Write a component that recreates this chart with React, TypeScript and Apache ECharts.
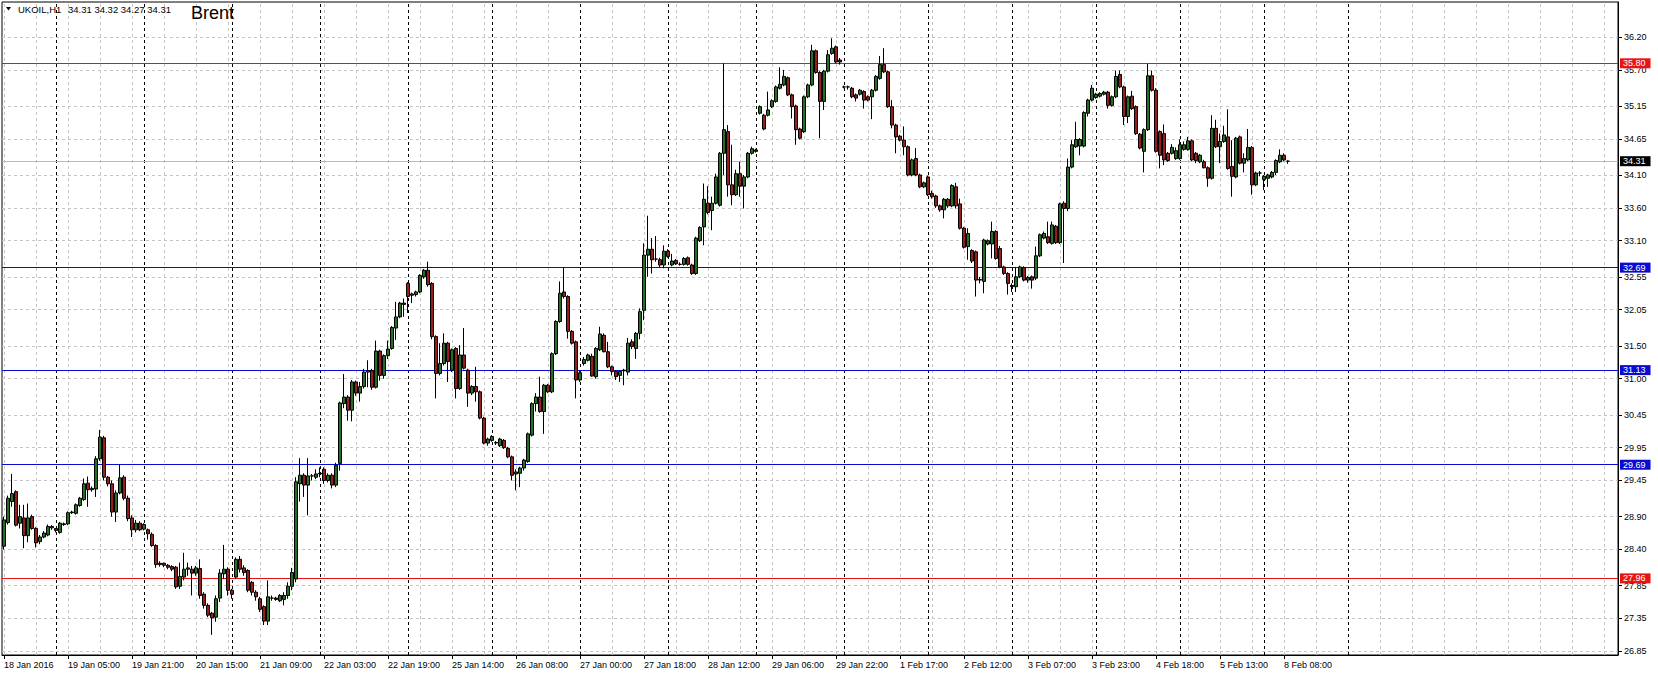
import React, { useEffect, useRef } from 'react';
import * as echarts from 'echarts';

// ---------- data ----------
const TIME_LABELS = [
  '18 Jan 2016', '19 Jan 05:00', '19 Jan 21:00', '20 Jan 15:00', '21 Jan 09:00',
  '22 Jan 03:00', '22 Jan 19:00', '25 Jan 14:00', '26 Jan 08:00', '27 Jan 00:00',
  '27 Jan 18:00', '28 Jan 12:00', '29 Jan 06:00', '29 Jan 22:00', '1 Feb 17:00',
  '2 Feb 12:00', '3 Feb 07:00', '3 Feb 23:00', '4 Feb 18:00', '5 Feb 13:00', '8 Feb 08:00',
];
const BARS_PER_LABEL = 16;
const SLOT_COUNT = 404; // visible bar slots incl. empty right-hand shift
const GRID_EVERY = 8;
const DAY_SEPARATORS = [13, 35, 57, 79, 101, 122, 144, 166, 188, 210, 231, 252, 273, 294, 315, 336];

// H1 bars: [open, high, low, close]
const OHLC: number[][] = [
  [28.45, 28.90, 28.40, 28.85], [28.81, 29.22, 28.78, 29.18], [29.13, 29.55, 29.05, 29.25], [29.28, 29.30, 28.75, 28.77],
  [28.80, 29.08, 28.72, 28.90], [28.88, 29.08, 28.42, 28.61], [28.61, 29.10, 28.51, 28.88], [28.90, 28.93, 28.70, 28.72],
  [28.72, 28.74, 28.43, 28.50], [28.52, 28.62, 28.48, 28.59], [28.59, 28.68, 28.57, 28.65], [28.62, 28.78, 28.60, 28.75],
  [28.75, 28.77, 28.70, 28.73], [28.72, 28.72, 28.66, 28.69], [28.66, 28.82, 28.64, 28.80], [28.79, 28.81, 28.76, 28.78],
  [28.79, 28.98, 28.77, 28.96], [28.96, 28.99, 28.94, 28.97], [28.95, 29.10, 28.93, 29.08], [29.07, 29.20, 29.05, 29.18],
  [29.16, 29.48, 29.14, 29.40], [29.41, 29.51, 29.05, 29.31], [29.31, 29.36, 29.28, 29.33], [29.32, 29.82, 29.20, 29.78],
  [29.78, 30.22, 29.75, 30.11], [30.10, 30.13, 29.45, 29.50], [29.50, 29.52, 29.36, 29.40], [29.40, 29.45, 28.90, 28.97],
  [28.97, 29.30, 28.82, 29.26], [29.26, 29.70, 29.24, 29.49], [29.50, 29.53, 29.15, 29.18], [29.18, 29.22, 28.83, 28.87],
  [28.88, 28.92, 28.59, 28.70], [28.70, 28.85, 28.66, 28.80], [28.80, 28.83, 28.68, 28.70], [28.71, 28.80, 28.69, 28.78],
  [28.70, 28.72, 28.55, 28.64], [28.63, 28.66, 28.44, 28.46], [28.46, 28.48, 28.12, 28.17], [28.17, 28.22, 28.14, 28.19],
  [28.19, 28.20, 28.13, 28.16], [28.16, 28.18, 28.10, 28.13], [28.14, 28.16, 28.07, 28.10], [28.13, 28.15, 27.80, 27.83],
  [27.84, 28.20, 27.80, 27.99], [27.98, 28.35, 27.93, 28.10], [28.10, 28.20, 28.00, 28.12], [28.10, 28.15, 27.70, 28.04],
  [28.04, 28.15, 28.00, 28.12], [28.11, 28.25, 27.65, 27.70], [27.72, 27.75, 27.50, 27.55], [27.55, 27.58, 27.37, 27.40],
  [27.43, 27.45, 27.10, 27.36], [27.37, 27.70, 27.30, 27.65], [27.66, 28.10, 27.60, 28.04], [28.03, 28.47, 27.95, 28.10],
  [28.10, 28.13, 27.70, 27.78], [27.78, 27.80, 27.65, 27.72], [27.98, 28.28, 27.95, 28.25], [28.25, 28.30, 28.05, 28.10],
  [28.12, 28.16, 28.00, 28.05], [28.08, 28.10, 27.75, 27.78], [27.90, 27.92, 27.70, 27.75], [27.75, 27.78, 27.62, 27.68],
  [27.65, 27.68, 27.45, 27.49], [27.53, 27.55, 27.25, 27.31], [27.31, 27.93, 27.25, 27.68], [27.66, 27.70, 27.62, 27.66],
  [27.66, 27.68, 27.62, 27.64], [27.62, 27.72, 27.60, 27.70], [27.64, 27.75, 27.55, 27.70], [27.70, 27.90, 27.65, 27.84],
  [27.84, 28.12, 27.78, 28.05], [27.95, 29.50, 27.90, 29.43], [29.40, 29.79, 29.13, 29.53], [29.53, 29.56, 29.20, 29.38],
  [29.38, 29.79, 28.92, 29.52], [29.52, 29.55, 29.45, 29.52], [29.50, 29.62, 29.47, 29.55], [29.55, 29.65, 29.50, 29.56],
  [29.62, 29.65, 29.40, 29.45], [29.45, 29.56, 29.42, 29.53], [29.53, 29.56, 29.33, 29.38], [29.38, 29.72, 29.35, 29.68],
  [29.71, 30.65, 29.60, 30.63],
  [30.62, 31.07, 30.55, 30.72], [30.72, 30.75, 30.36, 30.52], [30.52, 30.98, 30.35, 30.95], [30.95, 30.97, 30.74, 30.78],
  [30.78, 30.95, 30.65, 30.88], [30.88, 31.15, 30.85, 31.10], [31.10, 31.28, 30.87, 31.12], [31.12, 31.15, 30.83, 30.87],
  [30.87, 31.58, 30.85, 31.42], [31.42, 31.44, 30.97, 31.05], [31.05, 31.37, 31.00, 31.35], [31.35, 31.58, 31.30, 31.45],
  [31.46, 31.80, 31.44, 31.78], [31.77, 32.17, 31.59, 31.94], [31.94, 32.17, 31.92, 32.15], [32.15, 32.22, 31.94, 32.13],
  [32.45, 32.47, 32.00, 32.25], [32.27, 32.31, 32.15, 32.29], [32.28, 32.34, 32.25, 32.32], [32.32, 32.59, 32.30, 32.57],
  [32.55, 32.67, 32.52, 32.65], [32.65, 32.78, 32.40, 32.43], [32.45, 32.47, 31.60, 31.64], [31.64, 31.66, 30.70, 31.08],
  [31.08, 31.54, 31.05, 31.23], [31.23, 31.69, 31.20, 31.54], [31.54, 31.56, 30.95, 31.26], [31.13, 31.46, 31.10, 31.44],
  [31.46, 31.48, 30.70, 30.85], [30.85, 31.51, 30.83, 31.36], [31.36, 31.77, 31.14, 31.16], [31.13, 31.15, 30.57, 30.78],
  [30.78, 30.90, 30.75, 30.88], [30.88, 31.18, 30.65, 30.80], [30.80, 30.82, 30.38, 30.40], [30.40, 30.42, 30.00, 30.02],
  [30.02, 30.10, 29.98, 30.08], [30.06, 30.14, 30.04, 30.12], [30.03, 30.05, 29.99, 30.02], [29.98, 30.10, 29.96, 30.08],
  [30.06, 30.08, 29.93, 29.95], [29.94, 29.96, 29.79, 29.81], [29.81, 29.83, 29.45, 29.53], [29.55, 29.62, 29.30, 29.58],
  [29.56, 29.66, 29.35, 29.64], [29.64, 29.78, 29.60, 29.76], [29.74, 30.18, 29.72, 30.16], [30.14, 30.64, 30.12, 30.62],
  [30.62, 30.78, 30.50, 30.72], [30.72, 31.03, 30.48, 30.50], [30.50, 30.92, 30.16, 30.90], [30.90, 30.92, 30.78, 30.80],
  [30.80, 31.40, 30.78, 31.38], [31.38, 31.89, 31.36, 31.87], [31.87, 32.48, 31.85, 32.30], [32.32, 32.70, 32.22, 32.25],
  [32.25, 32.27, 31.61, 31.72], [31.72, 31.74, 31.52, 31.54], [31.56, 31.58, 30.70, 30.98], [30.98, 31.12, 30.95, 31.09],
  [31.23, 31.33, 31.20, 31.29], [31.28, 31.38, 31.26, 31.36], [31.34, 31.38, 31.03, 31.04], [31.03, 31.48, 31.00, 31.46],
  [31.44, 31.79, 31.42, 31.68], [31.66, 31.69, 31.40, 31.41], [31.41, 31.56, 31.16, 31.18], [31.18, 31.20, 31.05, 31.11],
  [31.11, 31.13, 30.98, 31.03], [31.05, 31.12, 30.95, 31.11], [31.12, 31.15, 30.90, 31.13], [31.10, 31.62, 31.05, 31.54],
  [31.56, 31.60, 31.45, 31.49], [31.46, 31.71, 31.30, 31.69], [31.69, 32.07, 31.60, 32.02],
  [32.04, 33.06, 31.89, 32.88], [32.88, 33.48, 32.55, 32.97], [32.97, 33.14, 32.60, 32.81], [32.82, 33.17, 32.78, 32.82],
  [32.81, 32.84, 32.70, 32.73], [32.73, 33.03, 32.68, 32.94], [32.94, 32.97, 32.84, 32.86], [32.73, 32.90, 32.71, 32.79],
  [32.80, 32.82, 32.73, 32.75], [32.74, 32.77, 32.72, 32.74], [32.74, 32.85, 32.72, 32.83], [32.84, 32.86, 32.72, 32.74],
  [32.73, 32.75, 32.58, 32.60], [32.60, 33.16, 32.58, 33.14], [33.10, 33.32, 33.08, 33.30], [33.31, 33.97, 33.03, 33.73],
  [33.67, 33.93, 33.50, 33.53], [33.56, 33.77, 33.26, 33.67], [33.67, 34.12, 33.65, 34.07], [33.64, 34.45, 33.62, 34.43],
  [34.43, 35.80, 34.10, 34.79], [34.76, 34.86, 33.77, 33.95], [33.95, 34.56, 33.64, 33.80], [33.80, 34.18, 33.78, 34.12],
  [34.12, 34.30, 33.77, 33.93], [33.93, 34.10, 33.59, 34.07], [34.07, 34.45, 34.05, 34.43], [34.43, 34.53, 34.41, 34.50],
  [34.48, 34.50, 34.44, 34.46],
  [35.04, 35.16, 35.02, 35.14], [35.01, 35.03, 34.78, 34.80], [35.01, 35.37, 34.99, 35.09], [35.14, 35.25, 35.12, 35.23],
  [35.22, 35.46, 35.20, 35.44], [35.42, 35.74, 35.40, 35.48], [35.47, 35.70, 35.45, 35.60], [35.58, 35.60, 35.30, 35.32],
  [35.32, 35.34, 34.96, 35.14], [35.15, 35.17, 34.56, 34.79], [34.80, 34.82, 34.64, 34.66], [34.76, 35.31, 34.74, 35.29],
  [35.29, 35.49, 35.27, 35.47], [35.47, 36.08, 35.45, 35.99], [35.99, 36.01, 35.64, 35.66], [35.66, 35.68, 34.66, 35.22],
  [35.22, 35.70, 35.09, 35.68], [35.68, 36.00, 35.66, 35.93], [35.95, 36.18, 35.93, 36.03], [36.05, 36.07, 35.80, 35.82],
  [35.85, 35.88, 35.78, 35.82],
  [35.44, 35.46, 35.42, 35.44], [35.44, 35.46, 35.40, 35.44], [35.42, 35.44, 35.27, 35.29], [35.32, 35.34, 35.22, 35.27],
  [35.33, 35.41, 35.31, 35.39], [35.37, 35.39, 35.11, 35.24], [35.29, 35.31, 35.22, 35.24], [35.29, 35.41, 34.95, 35.39],
  [35.39, 35.62, 35.37, 35.60], [35.57, 35.91, 35.55, 35.78], [35.78, 36.03, 35.65, 35.67], [35.67, 35.69, 35.12, 35.14],
  [35.14, 35.24, 34.81, 34.86], [34.86, 34.88, 34.43, 34.68], [34.69, 34.71, 34.61, 34.63], [34.63, 34.84, 34.40, 34.53],
  [34.53, 34.55, 34.08, 34.10], [34.10, 34.35, 34.08, 34.33], [34.35, 34.51, 34.08, 34.10], [34.10, 34.12, 33.90, 33.92],
  [33.92, 34.00, 33.90, 33.98], [34.07, 34.09, 33.78, 33.80],
  [33.82, 33.86, 33.74, 33.77], [33.78, 33.80, 33.60, 33.63], [33.63, 33.65, 33.54, 33.57], [33.57, 33.75, 33.44, 33.73],
  [33.73, 33.75, 33.60, 33.63], [33.63, 33.96, 33.61, 33.94], [33.92, 33.98, 33.59, 33.63], [33.66, 33.74, 33.27, 33.29],
  [33.29, 33.31, 32.98, 33.00], [33.01, 33.29, 32.81, 33.21], [32.95, 32.97, 32.76, 32.79], [32.93, 32.95, 32.25, 32.50],
  [32.50, 32.55, 32.45, 32.51], [32.48, 33.13, 32.30, 33.11], [33.05, 33.12, 33.03, 33.10], [33.05, 33.39, 32.83, 33.24],
  [33.24, 33.26, 32.81, 32.83], [32.98, 33.02, 32.68, 32.70], [32.70, 32.72, 32.58, 32.60], [32.60, 32.62, 32.28, 32.45],
  [32.42, 32.45, 32.32, 32.40], [32.40, 32.70, 32.32, 32.55], [32.55, 32.72, 32.53, 32.70], [32.69, 32.71, 32.48, 32.50],
  [32.50, 32.56, 32.46, 32.54], [32.55, 32.57, 32.37, 32.50], [32.53, 33.01, 32.50, 32.87], [32.87, 33.21, 32.85, 33.19],
  [33.14, 33.24, 33.12, 33.21], [33.16, 33.39, 33.05, 33.07], [33.06, 33.39, 33.04, 33.34], [33.32, 33.34, 33.05, 33.07],
  [33.07, 33.68, 33.05, 33.66], [33.67, 33.70, 32.76, 33.59], [33.59, 34.35, 33.55, 34.22], [34.22, 34.63, 34.20, 34.56],
  [34.53, 34.91, 34.51, 34.64], [34.54, 34.66, 34.40, 34.64], [34.54, 35.07, 34.52, 35.05], [35.04, 35.26, 34.99, 35.24],
  [35.24, 35.47, 35.22, 35.42], [35.28, 35.35, 35.26, 35.33], [35.30, 35.36, 35.28, 35.34], [35.33, 35.38, 35.31, 35.36],
  [35.36, 35.38, 35.11, 35.16], [35.16, 35.31, 35.14, 35.29], [35.29, 35.69, 35.27, 35.60], [35.63, 35.69, 35.42, 35.44],
  [35.44, 35.46, 34.86, 34.99], [34.99, 35.31, 34.89, 35.29], [35.30, 35.38, 35.09, 35.11], [35.14, 35.16, 34.71, 34.73],
  [34.72, 34.74, 34.49, 34.51], [34.46, 34.81, 34.14, 34.79], [34.79, 35.79, 34.77, 35.61], [35.61, 35.69, 35.37, 35.39],
  [35.39, 35.42, 34.44, 34.46], [34.76, 34.78, 34.20, 34.40], [34.73, 34.87, 34.25, 34.33], [34.43, 34.45, 34.30, 34.32],
  [34.43, 34.57, 34.41, 34.52], [34.35, 34.52, 34.33, 34.47], [34.35, 34.64, 34.33, 34.56], [34.49, 34.61, 34.47, 34.56],
  [34.49, 34.68, 34.47, 34.62], [34.62, 34.64, 34.31, 34.33], [34.43, 34.45, 34.28, 34.32], [34.30, 34.42, 34.28, 34.40],
  [34.30, 34.33, 34.20, 34.21], [34.21, 34.23, 33.92, 34.05], [34.05, 35.01, 34.03, 34.81], [34.81, 34.94, 34.51, 34.53],
  [34.53, 34.73, 34.28, 34.61], [34.61, 34.85, 34.59, 34.71], [34.68, 35.10, 34.18, 34.20], [34.23, 34.63, 33.77, 34.08],
  [34.07, 34.68, 34.05, 34.66], [34.68, 34.70, 34.26, 34.28], [34.28, 34.43, 34.14, 34.35], [34.33, 34.80, 34.31, 34.52],
  [34.52, 34.54, 33.80, 33.95], [33.95, 34.15, 33.93, 34.13], [34.13, 34.16, 34.08, 34.13], [34.03, 34.10, 33.87, 34.08],
  [34.05, 34.12, 33.92, 34.10], [34.07, 34.16, 34.05, 34.14], [34.14, 34.34, 34.10, 34.32], [34.30, 34.49, 34.28, 34.40],
  [34.40, 34.43, 34.31, 34.33], [34.31, 34.32, 34.27, 34.31],
];

const Y_TICKS = [26.85, 27.35, 27.85, 28.40, 28.90, 29.45, 29.95, 30.45, 31.00, 31.50, 32.05, 32.55, 33.10, 33.60, 34.10, 34.65, 35.15, 35.70, 36.20];
const Y_MIN = 26.794;
const Y_MAX = 36.733;

const RED_LEVELS = [35.80, 27.96];
const BLUE_LEVELS = [32.69, 31.13, 29.69];
const LAST_PRICE = 34.31;

const SYMBOL_TEXT = 'UKOIL,H1';
const LAST_BAR_TEXT = ['34.31', '34.32', '34.27', '34.31'];
const TITLE_TEXT = 'Brent';

// ---------- style ----------
const FONT = 'Liberation Sans, Arial, sans-serif';
const RED = '#e81414';
const BLUE = '#0a0ad2';
const GRID_GRAY = '#c4c4c4';

export default function App() {
  const ref = useRef<HTMLDivElement>(null);

  useEffect(() => {
    document.body.style.margin = '0';
    const chart = echarts.init(ref.current as HTMLDivElement, null, { renderer: 'svg' });

    const categories = Array.from({ length: SLOT_COUNT }, (_, i) => String(i));
    const labelFor = (i: number) =>
      i % BARS_PER_LABEL === 0 && i / BARS_PER_LABEL < TIME_LABELS.length ? TIME_LABELS[i / BARS_PER_LABEL] : '';
    const showLabel = (i: number) => labelFor(i) !== '';

    const candleData = OHLC.map(([o, h, l, c]) => [o, c, l, h]);

    const vGrid: any[] = [];
    for (let i = 0; i < SLOT_COUNT; i += GRID_EVERY) vGrid.push({ xAxis: i });
    const hGrid = Y_TICKS.map((v) => ({ yAxis: v }));
    const seps = DAY_SEPARATORS.map((i) => ({ xAxis: i }));

    const levelItem = (v: number, color: string, lineColor?: string) => ({
      yAxis: v,
      lineStyle: { color: lineColor || color, width: 1, type: 'solid' },
      label: {
        show: true,
        position: 'end',
        distance: 2,
        formatter: v.toFixed(2),
        color: '#fff',
        backgroundColor: color,
        padding: [1, 5, 0, 3],
        fontSize: 9,
        fontFamily: FONT,
      },
    });

    const option: any = {
      animation: false,
      backgroundColor: '#fff',
      grid: { left: 2, right: 40, top: 2, bottom: 21, show: true, borderColor: '#000', borderWidth: 1, backgroundColor: '#fff' },
      xAxis: {
        type: 'category',
        data: categories,
        boundaryGap: true,
        axisLine: { show: true, lineStyle: { color: '#000', width: 1 } },
        axisTick: { show: true, alignWithLabel: true, interval: (i: number) => showLabel(i), length: 4, lineStyle: { color: '#000' } },
        axisLabel: {
          show: true,
          interval: (i: number) => showLabel(i),
          formatter: (v: string) => labelFor(Number(v)),
          align: 'left',
          margin: 5,
          fontSize: 9,
          color: '#000',
          fontFamily: FONT,
        },
        splitLine: { show: false },
      },
      yAxis: {
        type: 'value',
        position: 'right',
        min: Y_MIN,
        max: Y_MAX,
        scale: true,
        axisLine: { show: true, lineStyle: { color: '#000', width: 1 } },
        axisTick: { show: true, customValues: Y_TICKS, length: 4, lineStyle: { color: '#000' } },
        axisLabel: {
          show: true,
          customValues: Y_TICKS,
          formatter: (v: number) => v.toFixed(2),
          margin: 6,
          fontSize: 9,
          color: '#000',
          fontFamily: FONT,
        },
        splitLine: { show: false },
      },
      series: [
        {
          type: 'line',
          data: [],
          z: 1,
          silent: true,
          markLine: {
            silent: true,
            symbol: ['none', 'none'],
            animation: false,
            label: { show: false },
            lineStyle: { color: GRID_GRAY, width: 1, type: [3, 3] },
            data: [...vGrid, ...hGrid],
          },
        },
        {
          type: 'line',
          data: [],
          z: 2,
          silent: true,
          markLine: {
            silent: true,
            symbol: ['none', 'none'],
            animation: false,
            label: { show: false },
            lineStyle: { color: '#000', width: 1, type: [3, 3] },
            data: seps,
          },
        },
        {
          type: 'line',
          data: [],
          z: 3,
          silent: true,
          markLine: {
            silent: true,
            symbol: ['none', 'none'],
            animation: false,
            data: [
              ...RED_LEVELS.map((v) => levelItem(v, RED)),
              ...BLUE_LEVELS.map((v) => levelItem(v, BLUE)),
              levelItem(LAST_PRICE, '#000', '#b8b8b8'),
            ],
          },
        },
        {
          type: 'candlestick',
          data: candleData,
          z: 5,
          barWidth: 3,
          itemStyle: {
            color: '#237023',
            color0: '#9b1c1c',
            borderColor: '#000',
            borderColor0: '#000',
            borderWidth: 1,
          },
        },
      ],
      graphic: [
        { type: 'polygon', shape: { points: [[6, 7], [11, 7], [8.5, 10.5]] }, style: { fill: '#000' }, z: 10 },
        { type: 'text', left: 18, top: 4, z: 10, style: { text: SYMBOL_TEXT, fontSize: 9.5, fontFamily: FONT, fill: '#000' } },
        { type: 'text', left: 68, top: 4, z: 10, style: { text: LAST_BAR_TEXT.join(' '), fontSize: 9.5, fontFamily: FONT, fill: '#000' } },
        { type: 'text', left: 191, top: 4, z: 10, style: { text: TITLE_TEXT, fontSize: 18, fontFamily: FONT, fill: '#000' } },
      ],
    };

    chart.setOption(option);
    return () => chart.dispose();
  }, []);

  return <div ref={ref} style={{ position: 'fixed', left: 0, top: 0, width: 1658, height: 676, background: '#fff' }} />;
}
